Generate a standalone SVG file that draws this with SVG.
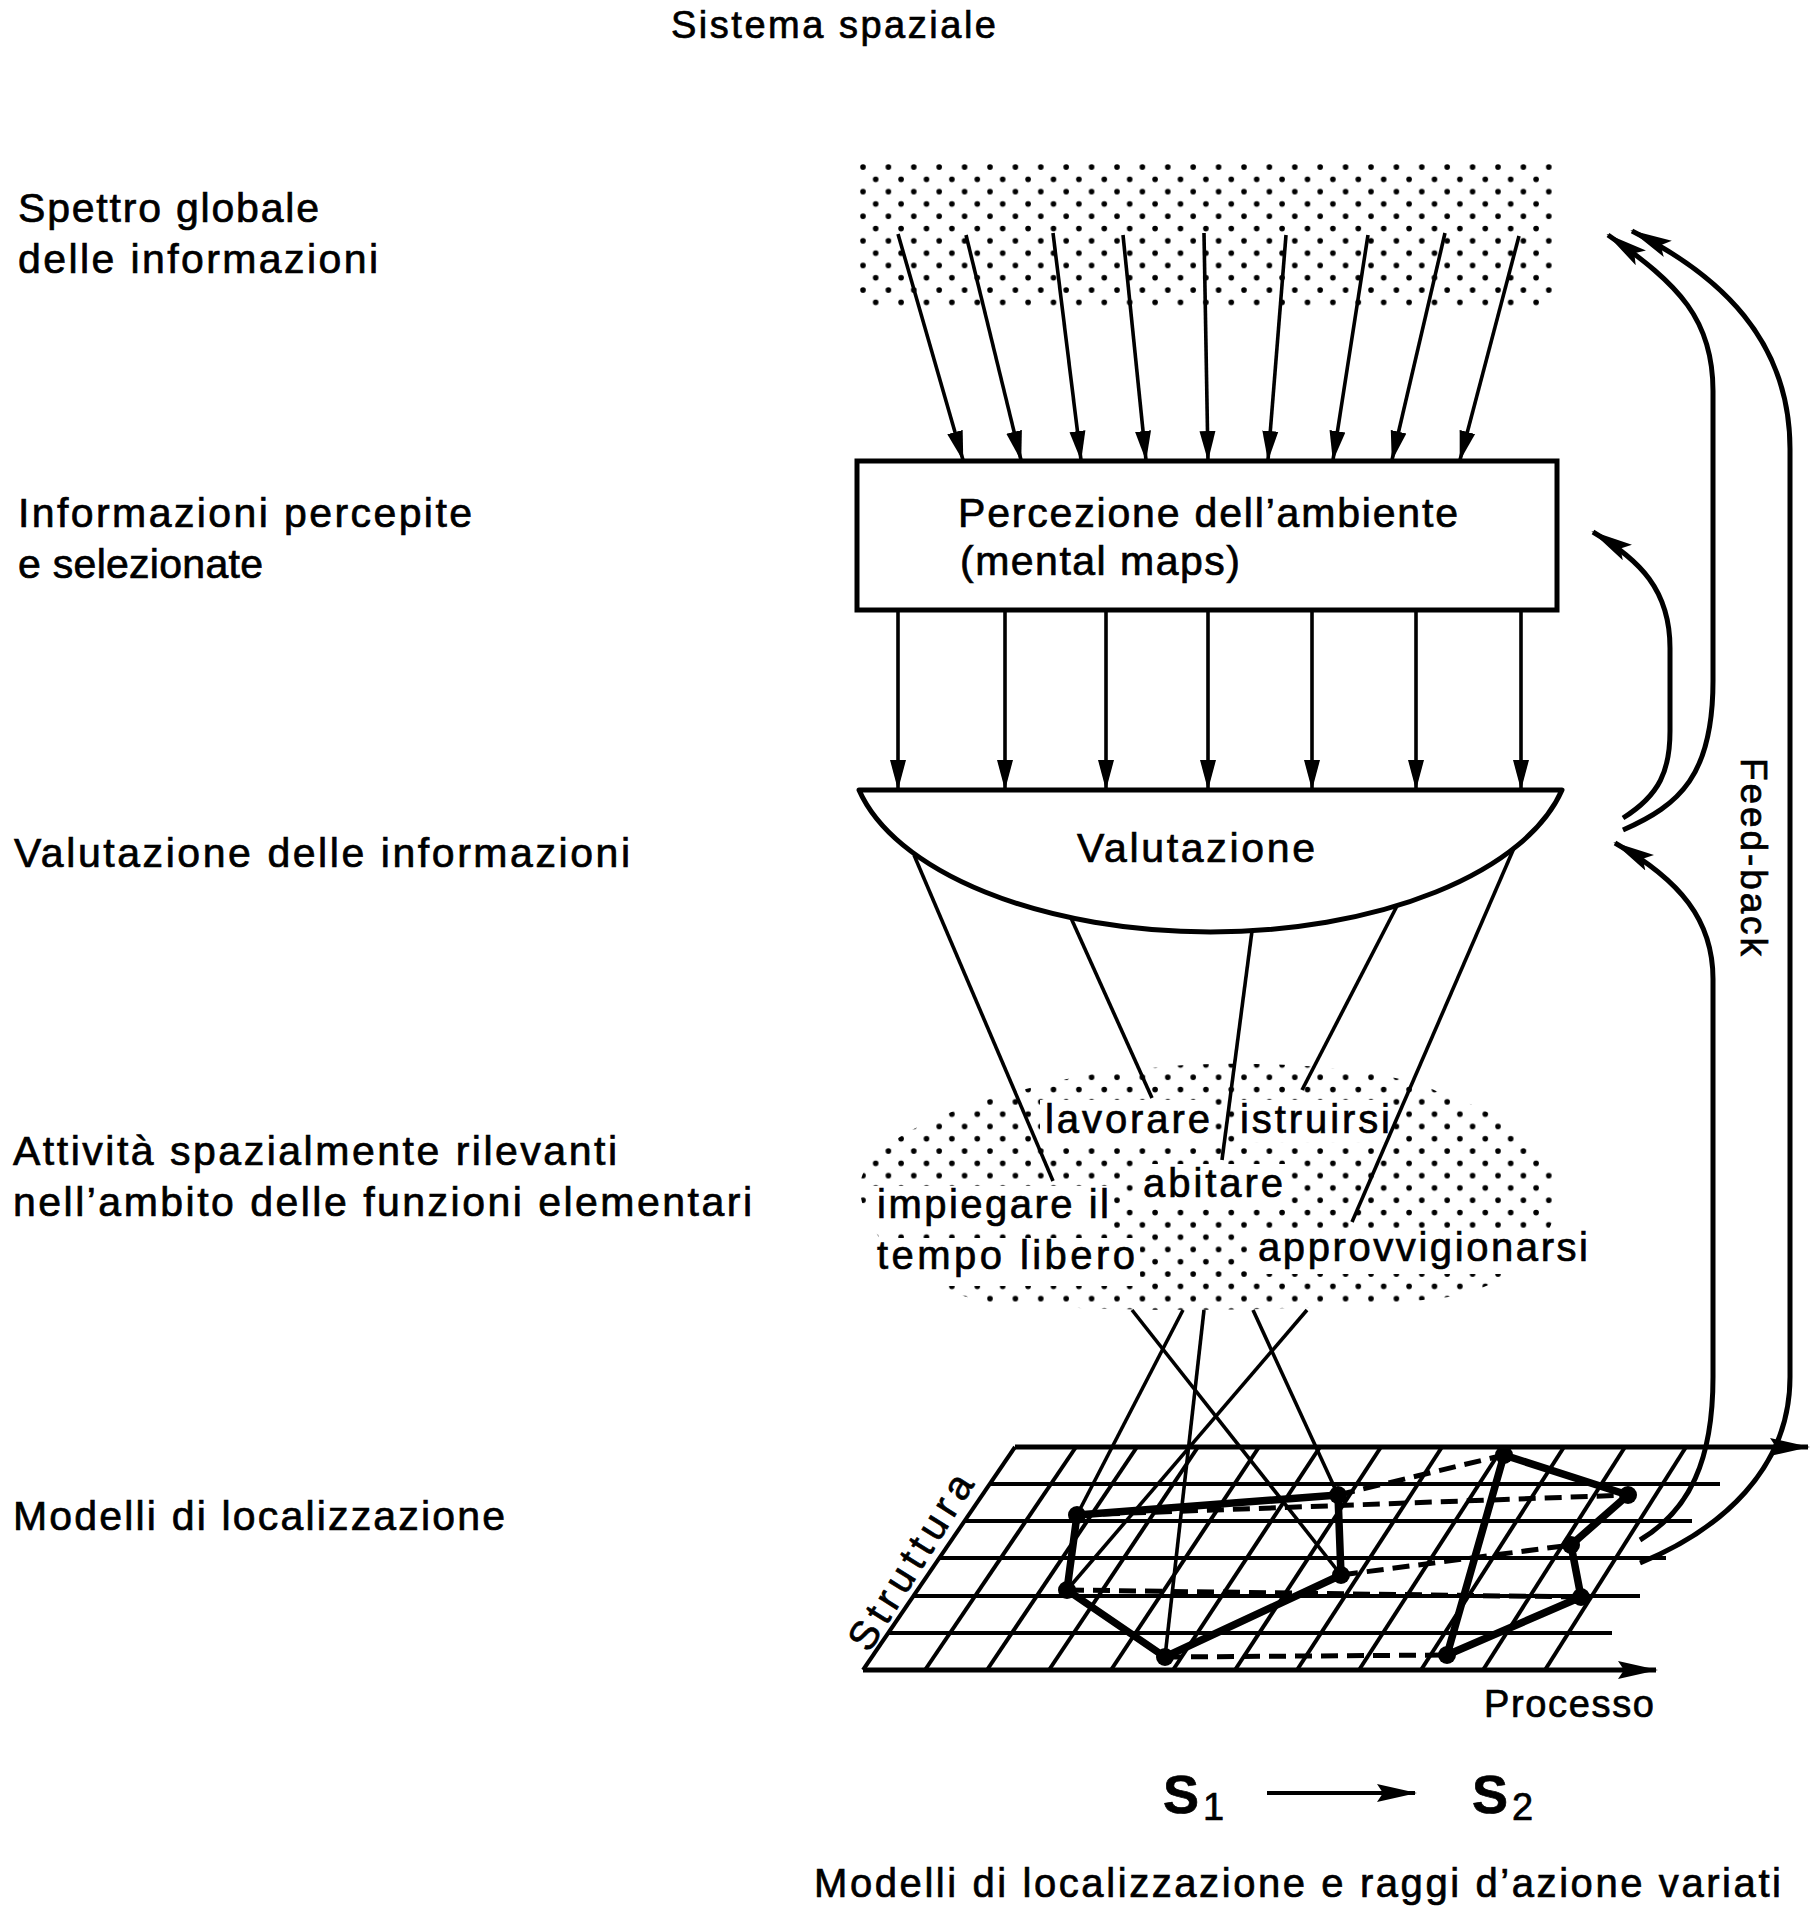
<svg xmlns="http://www.w3.org/2000/svg" width="1810" height="1910" viewBox="0 0 1810 1910">
<defs>
<style>
text{font-family:"Liberation Sans",Arial,sans-serif;fill:#000;stroke:#000;stroke-width:0.7}
.lbl{font-size:41px}
.in{font-size:40px}
.ln{stroke:#000;stroke-width:3.6;fill:none}
.arr{stroke:#000;stroke-width:3.6;fill:none;marker-end:url(#ah)}
.fb{stroke:#000;stroke-width:5;fill:none;marker-end:url(#fbh)}
.grid{stroke:#000;stroke-width:4;fill:none}
.edge{stroke:#000;stroke-width:5;fill:none}
.poly{stroke:#000;stroke-width:7.5;fill:none;stroke-linejoin:round}
.dash{stroke:#000;stroke-width:5;fill:none;stroke-dasharray:17 9}
.ko{fill:#fff}
</style>
<pattern id="dots" patternUnits="userSpaceOnUse" x="859" y="164" width="25.4" height="24.6">
<circle cx="4" cy="3" r="2.8" fill="#000"/>
<circle cx="16.7" cy="15.3" r="2.8" fill="#000"/>
</pattern>
<marker id="ah" markerUnits="userSpaceOnUse" viewBox="0 0 30 18" markerWidth="30" markerHeight="18" refX="29" refY="9" orient="auto">
<path d="M0,1 L30,9 L0,17 Z" fill="#000"/>
</marker>
<marker id="fbh" markerUnits="userSpaceOnUse" viewBox="0 0 42 20" markerWidth="42" markerHeight="20" refX="40" refY="10" orient="auto">
<path d="M0,1 L42,10 L0,19 L8,10 Z" fill="#000"/>
</marker>
<marker id="axh" markerUnits="userSpaceOnUse" viewBox="0 0 40 20" markerWidth="40" markerHeight="20" refX="38" refY="10" orient="auto">
<path d="M0,1 L40,10 L0,19 L6,10 Z" fill="#000"/>
</marker>
</defs>
<rect x="0" y="0" width="1810" height="1910" fill="#fff"/>

<g id="title">
<text x="671" y="38" font-size="38" textLength="325">Sistema spaziale</text>
</g>

<g id="left-labels">
<g id="lbl-spettro"><text class="lbl" x="18" y="222" textLength="301">Spettro globale</text><text class="lbl" x="18" y="273" textLength="360">delle informazioni</text></g>
<g id="lbl-percepite"><text class="lbl" x="18" y="527" textLength="454">Informazioni percepite</text><text class="lbl" x="18" y="578" textLength="245">e selezionate</text></g>
<g id="lbl-valutazione"><text class="lbl" x="14" y="867" textLength="616">Valutazione delle informazioni</text></g>
<g id="lbl-attivita"><text class="lbl" x="13" y="1165" textLength="604">Attività spazialmente rilevanti</text><text class="lbl" x="13" y="1216" textLength="739">nell’ambito delle funzioni elementari</text></g>
<g id="lbl-modelli"><text class="lbl" x="13" y="1530" textLength="492">Modelli di localizzazione</text></g>
</g>

<g id="node-spettro">
<rect x="859" y="164" width="694" height="147" fill="url(#dots)"/>
</g>

<g id="node-attivita">
<path d="M1150,1068 C1250,1058 1390,1066 1440,1093 C1500,1112 1552,1145 1557,1185 C1562,1235 1520,1282 1455,1296 C1350,1312 1100,1314 990,1302 C920,1292 866,1240 860,1192 C856,1150 930,1112 1030,1088 C1075,1076 1110,1070 1150,1068 Z" fill="url(#dots)"/>
<rect class="ko" x="1040" y="1100" width="172" height="46"/>
<rect class="ko" x="1236" y="1100" width="156" height="42"/>
<rect class="ko" x="1136" y="1164" width="152" height="42"/>
<rect class="ko" x="870" y="1186" width="244" height="44"/>
<rect class="ko" x="870" y="1238" width="270" height="48"/>
<rect class="ko" x="1250" y="1228" width="344" height="46"/>
</g>

<g id="connectors">
<line class="arr" x1="898" y1="234" x2="963" y2="460"/>
<line class="arr" x1="966" y1="235" x2="1021" y2="460"/>
<line class="arr" x1="1053" y1="233" x2="1081" y2="460"/>
<line class="arr" x1="1123" y1="235" x2="1146" y2="460"/>
<line class="arr" x1="1204" y1="233" x2="1208" y2="460"/>
<line class="arr" x1="1286" y1="235" x2="1268" y2="460"/>
<line class="arr" x1="1368" y1="235" x2="1333" y2="460"/>
<line class="arr" x1="1445" y1="233" x2="1392" y2="460"/>
<line class="arr" x1="1519" y1="236" x2="1460" y2="460"/>

<line class="arr" x1="898" y1="611" x2="898" y2="789"/>
<line class="arr" x1="1005" y1="611" x2="1005" y2="789"/>
<line class="arr" x1="1106" y1="611" x2="1106" y2="789"/>
<line class="arr" x1="1208" y1="611" x2="1208" y2="789"/>
<line class="arr" x1="1312" y1="611" x2="1312" y2="789"/>
<line class="arr" x1="1416" y1="611" x2="1416" y2="789"/>
<line class="arr" x1="1521" y1="611" x2="1521" y2="789"/>

<line class="ln" x1="914" y1="855" x2="1053" y2="1181"/>
<line class="ln" x1="1071" y1="918" x2="1152" y2="1098"/>
<line class="ln" x1="1252" y1="931" x2="1222" y2="1160"/>
<line class="ln" x1="1397" y1="906" x2="1302" y2="1090"/>
<line class="ln" x1="1514" y1="848" x2="1352" y2="1222"/>

<line class="ln" x1="1132" y1="1310" x2="1341" y2="1575"/>
<line class="ln" x1="1183" y1="1310" x2="1077" y2="1515"/>
<line class="ln" x1="1204" y1="1310" x2="1165" y2="1657"/>
<line class="ln" x1="1253" y1="1310" x2="1338" y2="1495"/>
<line class="ln" x1="1307" y1="1310" x2="1067" y2="1590"/>
</g>

<g id="node-percezione">
<rect x="857" y="461" width="700" height="149" fill="#fff" stroke="#000" stroke-width="5"/>
<text class="lbl" x="958" y="527" textLength="500">Percezione dell’ambiente</text>
<text class="lbl" x="960" y="575" textLength="280">(mental maps)</text>
</g>

<g id="node-valutazione">
<path d="M859,790 A360,181 0 0 0 1562,790 Z" fill="#fff" stroke="#000" stroke-width="5" stroke-linejoin="round"/>
<text class="lbl" x="1077" y="862" textLength="238">Valutazione</text>
</g>

<g id="activity-labels">
<text class="in" x="1045" y="1133" textLength="165">lavorare</text>
<text class="in" x="1240" y="1133" textLength="150">istruirsi</text>
<text class="in" x="1143" y="1197" textLength="140">abitare</text>
<text class="in" x="877" y="1218" textLength="232">impiegare il</text>
<text class="in" x="877" y="1269" textLength="258">tempo libero</text>
<text class="in" x="1258" y="1261" textLength="330">approvvigionarsi</text>
</g>

<g id="node-modelli">
<g id="grid">
<line class="edge" x1="1015" y1="1447" x2="1808" y2="1447" marker-end="url(#axh)"/>
<line class="edge" x1="863" y1="1670" x2="1656" y2="1670" marker-end="url(#axh)"/>
<line class="grid" x1="990" y1="1484" x2="1720" y2="1484"/>
<line class="grid" x1="965" y1="1521" x2="1692" y2="1521"/>
<line class="grid" x1="939" y1="1558" x2="1666" y2="1558"/>
<line class="grid" x1="914" y1="1596" x2="1640" y2="1596"/>
<line class="grid" x1="888" y1="1633" x2="1612" y2="1633"/>
<line class="grid" x1="863" y1="1670" x2="1015" y2="1447"/>
<line class="grid" x1="925" y1="1670" x2="1076" y2="1447"/>
<line class="grid" x1="987" y1="1670" x2="1137" y2="1447"/>
<line class="grid" x1="1049" y1="1670" x2="1198" y2="1447"/>
<line class="grid" x1="1111" y1="1670" x2="1259" y2="1447"/>
<line class="grid" x1="1173" y1="1670" x2="1320" y2="1447"/>
<line class="grid" x1="1235" y1="1670" x2="1381" y2="1447"/>
<line class="grid" x1="1297" y1="1670" x2="1442" y2="1447"/>
<line class="grid" x1="1359" y1="1670" x2="1503" y2="1447"/>
<line class="grid" x1="1421" y1="1670" x2="1564" y2="1447"/>
<line class="grid" x1="1483" y1="1670" x2="1625" y2="1447"/>
<line class="grid" x1="1545" y1="1670" x2="1686" y2="1447"/>
</g>
<g id="dashes">
<line class="dash" x1="1077" y1="1515" x2="1628" y2="1495"/>
<line class="dash" x1="1338" y1="1495" x2="1504" y2="1455"/>
<line class="dash" x1="1341" y1="1575" x2="1571" y2="1545"/>
<line class="dash" x1="1067" y1="1590" x2="1581" y2="1597"/>
<line class="dash" x1="1165" y1="1657" x2="1447" y2="1655"/>
</g>
<g id="s1">
<polygon class="poly" points="1077,1515 1338,1495 1341,1575 1165,1657 1067,1590"/>
<circle cx="1077" cy="1515" r="9"/><circle cx="1338" cy="1495" r="9"/><circle cx="1341" cy="1575" r="9"/><circle cx="1165" cy="1657" r="9"/><circle cx="1067" cy="1590" r="9"/>
</g>
<g id="s2">
<polygon class="poly" points="1504,1455 1628,1495 1571,1545 1581,1597 1447,1655"/>
<circle cx="1504" cy="1455" r="9"/><circle cx="1628" cy="1495" r="9"/><circle cx="1571" cy="1545" r="9"/><circle cx="1581" cy="1597" r="9"/><circle cx="1447" cy="1655" r="9"/>
</g>
<text x="922" y="1569" font-size="40" text-anchor="middle" textLength="200" transform="rotate(-58 922 1569)">Struttura</text>
<text x="1484" y="1717" font-size="38" textLength="170">Processo</text>
</g>

<g id="feedback">
<path class="fb" d="M1640,1563 C1720,1530 1790,1470 1790,1377 L1790,449 C1790,340 1720,275 1632,231"/>
<path class="fb" d="M1623,830 C1680,805 1713,775 1713,681 L1713,391 C1713,320 1680,285 1608,235"/>
<path class="fb" d="M1623,818 C1660,795 1670,770 1670,731 L1670,648 C1670,590 1640,560 1593,532"/>
<path class="fb" d="M1640,1540 C1690,1510 1713,1460 1713,1377 L1713,979 C1713,920 1680,880 1615,843"/>
<text x="1741" y="758" font-size="37" textLength="198" transform="rotate(90 1741 758)">Feed-back</text>
</g>

<g id="transition">
<text x="1163" y="1813" font-size="54" font-weight="bold">S</text>
<text x="1203" y="1820" font-size="38">1</text>
<line x1="1267" y1="1793" x2="1415" y2="1793" stroke="#000" stroke-width="4" marker-end="url(#axh)"/>
<text x="1472" y="1813" font-size="54" font-weight="bold">S</text>
<text x="1512" y="1820" font-size="38">2</text>
</g>

<g id="caption">
<text x="814" y="1897" font-size="40" textLength="967">Modelli di localizzazione e raggi d’azione variati</text>
</g>
</svg>
